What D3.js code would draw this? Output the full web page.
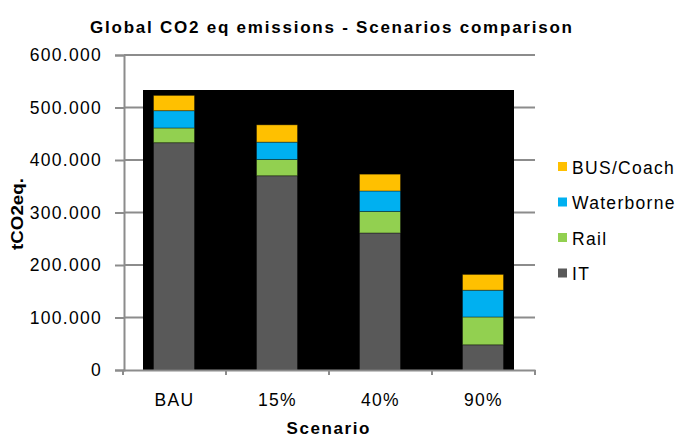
<!DOCTYPE html>
<html>
<head>
<meta charset="utf-8">
<script src="https://cdn.jsdelivr.net/npm/d3@7"></script>
<style>
  html, body { margin: 0; padding: 0; background: #fff; }
  svg { display: block; font-family: "Liberation Sans", Arial, sans-serif; }
</style>
</head>
<body>
<svg id="chart" width="680" height="438"></svg>
<script>
// Scenario categories and emissions per transport mode (t CO2 eq)
const scenarios = ["BAU", "15%", "40%", "90%"];
const seriesNames = ["IT", "Rail", "Waterborne", "BUS/Coach"];
const itValues = [433000, 370000, 261000, 48000];
const railValues = [28000, 31000, 41000, 53000];
const waterborneValues = [33000, 33000, 39000, 51000];
const busValues = [29000, 33000, 32000, 30000];
const yTicks = [0, 100000, 200000, 300000, 400000, 500000, 600000];
const colors = ["#595959", "#92D050", "#00B0F0", "#FFC000"];

const svg = d3.select("#chart");
const gridColor = "#8c8c8c";

const rows = scenarios.map((s, i) => ({
  scenario: s,
  "IT": itValues[i],
  "Rail": railValues[i],
  "Waterborne": waterborneValues[i],
  "BUS/Coach": busValues[i]
}));
const stacked = d3.stack().keys(seriesNames)(rows);

const x = d3.scaleBand().domain(scenarios).range([123, 535]).padding(0);
const y = d3.scaleLinear().domain([0, 600000]).range([370, 55]);

const fmt = d3.formatLocale({ decimal: ",", thousands: ".", grouping: [3], currency: ["", ""] }).format(",");

// Horizontal gridlines
svg.append("g").selectAll("line").data(yTicks.filter(d => d > 0)).join("line")
  .attr("x1", 124).attr("x2", 535)
  .attr("y1", d => y(d)).attr("y2", d => y(d))
  .attr("stroke", gridColor).attr("stroke-width", 2);

// Black plot backdrop
svg.append("rect")
  .attr("x", 143).attr("y", 90)
  .attr("width", 514 - 143).attr("height", y(0) - 90)
  .attr("fill", "#000");

// Stacked bars
const barW = 41;
svg.append("g").selectAll("g").data(stacked).join("g")
  .attr("fill", (d, i) => colors[i])
  .selectAll("rect").data(d => d).join("rect")
  .attr("x", d => x(d.data.scenario) + x.bandwidth() / 2 - barW / 2 - 0.5)
  .attr("y", d => y(d[1]))
  .attr("width", barW)
  .attr("height", d => y(d[0]) - y(d[1]))
  .attr("stroke", "rgba(0,0,0,0.35)")
  .attr("stroke-width", 1);

// Y axis
const yAxis = svg.append("g")
  .attr("transform", "translate(124,0)")
  .call(d3.axisLeft(y).tickValues(yTicks).tickFormat(fmt).tickSize(9).tickPadding(13));
yAxis.select(".domain").attr("stroke", gridColor).attr("stroke-width", 2);
yAxis.selectAll(".tick line").attr("stroke", gridColor).attr("stroke-width", 2);
yAxis.selectAll(".tick text")
  .attr("font-size", 17.5).attr("letter-spacing", "1.3px").attr("fill", "#000")
  .attr("font-family", "Liberation Sans, Arial, sans-serif");

// X axis
const xAxis = svg.append("g")
  .attr("transform", `translate(0,${y(0)})`)
  .call(d3.axisBottom(x).tickSize(0).tickPadding(24));
xAxis.select(".domain").attr("stroke", gridColor).attr("stroke-width", 2);
xAxis.selectAll(".tick text")
  .attr("font-size", 17.5).attr("letter-spacing", "1.3px").attr("fill", "#000")
  .attr("font-family", "Liberation Sans, Arial, sans-serif");
// category boundary ticks
svg.append("g").selectAll("line")
  .data(scenarios.map(s => x(s)).concat([x.range()[1]]))
  .join("line")
  .attr("x1", d => d).attr("x2", d => d)
  .attr("y1", y(0)).attr("y2", y(0) + 5)
  .attr("stroke", gridColor).attr("stroke-width", 2);

// Title
svg.append("text")
  .attr("x", 331).attr("y", 33)
  .attr("text-anchor", "middle")
  .attr("font-weight", "bold").attr("font-size", 17)
  .attr("textLength", 482).attr("lengthAdjust", "spacing")
  .text("Global CO2 eq emissions - Scenarios comparison");

// Axis titles
svg.append("text")
  .attr("x", 328).attr("y", 434)
  .attr("text-anchor", "middle")
  .attr("font-weight", "bold").attr("font-size", 17)
  .attr("textLength", 83).attr("lengthAdjust", "spacing")
  .text("Scenario");

svg.append("text")
  .attr("transform", "translate(23,214) rotate(-90)")
  .attr("text-anchor", "middle")
  .attr("font-weight", "bold").attr("font-size", 17)
  .attr("textLength", 72).attr("lengthAdjust", "spacingAndGlyphs")
  .text("tCO2eq.");

// Legend (top series first)
const legendOrder = seriesNames.map((n, i) => ({ name: n, color: colors[i] })).reverse();
const legend = svg.append("g").attr("transform", "translate(558,167)");
const items = legend.selectAll("g").data(legendOrder).join("g")
  .attr("transform", (d, i) => `translate(0,${i * 35.5})`);
items.append("rect")
  .attr("x", 0).attr("y", -5).attr("width", 9).attr("height", 9)
  .attr("fill", d => d.color);
items.append("text")
  .attr("x", 14).attr("y", 6.5)
  .attr("font-size", 17.5).attr("letter-spacing", "1.3px")
  .text(d => d.name);
</script>
</body>
</html>
